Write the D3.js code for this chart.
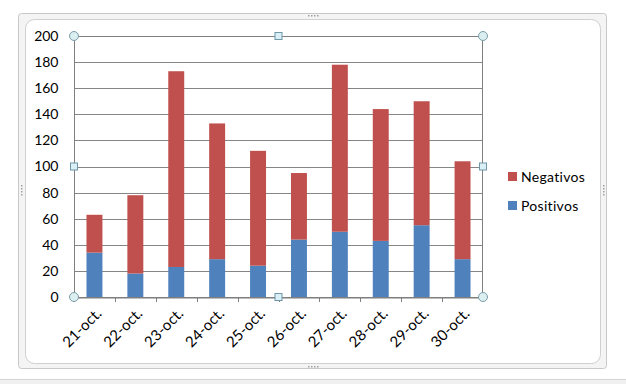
<!DOCTYPE html>
<html><head><meta charset="utf-8">
<script src="https://cdn.jsdelivr.net/npm/d3@7"></script>
<style>
html,body{margin:0;padding:0;background:#fff;}
svg{display:block;font-family:Lato,"Open Sans",sans-serif;}
</style></head>
<body><svg id="c" width="626" height="384"></svg>
<script>
const categories = ["21-oct.","22-oct.","23-oct.","24-oct.","25-oct.","26-oct.","27-oct.","28-oct.","29-oct.","30-oct."];
const positivos = [34,18,23,29,24,44,50,43,55,29];
const negativos = [29,60,150,104,88,51,128,101,95,75];
const yTicks = [0,20,40,60,80,100,120,140,160,180,200];
const seriesNames = ["Positivos","Negativos"];
const colors = {Positivos:"#4f81bd", Negativos:"#c0504d"};

const svg = d3.select("#c");
const W=626,H=384;
// outer window chrome
svg.append("rect").attr("x",0).attr("y",0).attr("width",W).attr("height",H).attr("fill","#fff");
svg.append("rect").attr("x",0).attr("y",379).attr("width",W).attr("height",5).attr("fill","#f0f0f0");
svg.append("line").attr("x1",0).attr("x2",W).attr("y1",379.5).attr("y2",379.5).attr("stroke","#d4d4d4");
svg.append("rect").attr("x",18.5).attr("y",13.5).attr("width",588).attr("height",355).attr("rx",3)
  .attr("fill","#f4f4f4").attr("stroke","#c8c8c8");
svg.append("rect").attr("x",25.5).attr("y",19.5).attr("width",575).attr("height",344).attr("rx",9)
  .attr("fill","#fff").attr("stroke","#d0d0d0");
// grip dots
function grip(cx,cy,vertical){
  for(let i=0;i<4;i++){
    svg.append("rect").attr("x",vertical?cx-0.5:cx-5+i*3).attr("y",vertical?cy-5+i*3:cy-0.5)
      .attr("width",1.5).attr("height",1.5).attr("fill","#a0a0a0");
  }
}
grip(313,15.5,false); grip(313,366.5,false); grip(21.5,190,true); grip(603.5,190,true);

const m={l:74,r:483,t:36,b:297};
const x = d3.scaleBand().domain(categories).range([m.l,m.r]).paddingInner(0.61).paddingOuter(0.305);
const xb = d3.scaleBand().domain(categories).range([m.l,m.r]);
const y = d3.scaleLinear().domain([0,200]).range([m.b,m.t]);

// gridlines
svg.append("g").selectAll("line").data(yTicks).join("line")
  .attr("x1",m.l).attr("x2",m.r).attr("y1",d=>Math.round(y(d))+0.5).attr("y2",d=>Math.round(y(d))+0.5)
  .attr("stroke","#868686").attr("stroke-width",1);

// stacked bars
const rows = categories.map((c,i)=>({cat:c,Positivos:positivos[i],Negativos:negativos[i]}));
const stack = d3.stack().keys(seriesNames)(rows);
svg.append("g").selectAll("g").data(stack).join("g").attr("fill",d=>colors[d.key])
  .selectAll("rect").data(d=>d).join("rect")
  .attr("x",d=>x(d.data.cat)).attr("width",x.bandwidth())
  .attr("y",d=>y(d[1])).attr("height",d=>y(d[0])-y(d[1]));

// plot border (selected)
svg.append("rect").attr("x",m.l+0.5).attr("y",m.t+0.5).attr("width",m.r-m.l-1).attr("height",m.b-m.t)
  .attr("fill","none").attr("stroke","#7f7f7f");

// y axis
const yAxis = d3.axisLeft(y).tickValues(yTicks).tickSize(0).tickPadding(16);
const gy = svg.append("g").attr("transform",`translate(${m.l+0.5},0)`).call(yAxis);
gy.select(".domain").remove();
gy.selectAll("text").attr("font-size",14).attr("fill","#000").attr("font-family","Lato,sans-serif");

// x axis
const xAxis = d3.axisBottom(xb).tickSize(0).tickPadding(0);
const gx = svg.append("g").attr("transform",`translate(0,${m.b+0.5})`).call(xAxis);
gx.select(".domain").attr("stroke","#7f7f7f");
gx.selectAll(".tick text").attr("font-size",15).attr("fill","#000").attr("font-family","Lato,sans-serif")
  .attr("text-anchor","end").attr("dy",0)
  .attr("transform","translate(8,17) rotate(-45)");
// tick marks at category boundaries
svg.append("g").selectAll("line").data(categories.slice(1)).join("line")
  .attr("x1",d=>Math.round(xb(d))+0.5).attr("x2",d=>Math.round(xb(d))+0.5)
  .attr("y1",m.b).attr("y2",m.b+5).attr("stroke","#7f7f7f");

// selection handles
function circ(cx,cy){svg.append("circle").attr("cx",cx).attr("cy",cy).attr("r",4.5).attr("fill","#dbeef0").attr("stroke","#7a9ca8");}
function sq(cx,cy){svg.append("rect").attr("x",cx-3.5).attr("y",cy-3.5).attr("width",7).attr("height",7).attr("fill","#dbf0f6").attr("stroke","#6d98a8");}
circ(m.l,m.t);circ(m.r,m.t);circ(m.l,m.b);circ(m.r,m.b);
sq((m.l+m.r)/2,m.t);sq((m.l+m.r)/2,m.b);sq(m.l,(m.t+m.b)/2);sq(m.r,(m.t+m.b)/2);

// legend
const legendOrder = ["Negativos","Positivos"];
const lg = svg.append("g").attr("transform","translate(508,172)");
legendOrder.forEach((k,i)=>{
  const g = lg.append("g").attr("transform",`translate(0,${i*29})`);
  g.append("rect").attr("width",9).attr("height",9).attr("fill",colors[k]);
  g.append("text").attr("x",13).attr("y",9.5).attr("font-size",14).attr("fill","#000").attr("letter-spacing",0.3).text(k);
});
</script></body></html>
